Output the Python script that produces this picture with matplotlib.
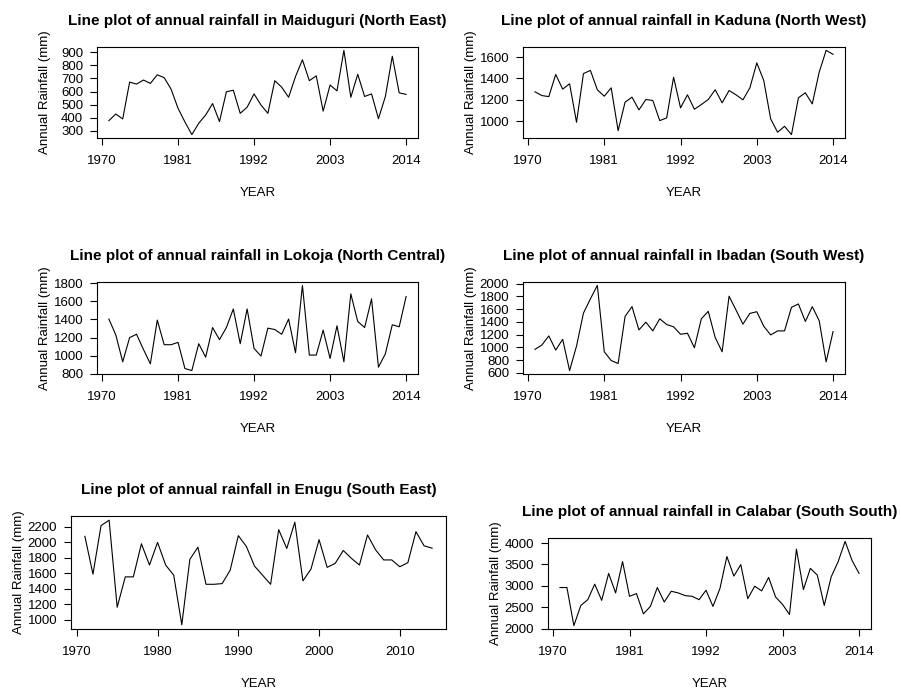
import matplotlib
matplotlib.use("Agg")
import matplotlib.pyplot as plt
import numpy as np

plt.rcParams['font.family'] = ['Liberation Sans', 'DejaVu Sans']

years = list(range(1971, 2015))

maiduguri = [377, 428, 390, 672, 657, 688, 662, 728, 706, 618, 472, 367, 270, 357, 420, 508,
             370, 598, 610, 433, 480, 582, 497, 433, 683, 633, 556, 715, 843, 683, 720, 450,
             650, 605, 915, 556, 732, 562, 582, 392, 562, 870, 590, 578]
kaduna = [1275, 1240, 1230, 1437, 1300, 1350, 990, 1445, 1475, 1294, 1234, 1312, 912, 1178,
          1225, 1106, 1203, 1194, 1006, 1031, 1412, 1125, 1247, 1112, 1156, 1203, 1294, 1172,
          1287, 1247, 1200, 1312, 1545, 1381, 1022, 897, 953, 875, 1219, 1266, 1162, 1459,
          1662, 1625]
lokoja = [1404, 1230, 934, 1200, 1237, 1070, 912, 1393, 1122, 1122, 1148, 860, 838, 1133,
          985, 1311, 1178, 1311, 1515, 1133, 1515, 1082, 997, 1304, 1289, 1237, 1404, 1034,
          1774, 1008, 1008, 1282, 971, 1330, 934, 1681, 1378, 1311, 1626, 875, 1023, 1341,
          1319, 1652]
ibadan = [970, 1038, 1181, 959, 1128, 637, 1022, 1540, 1762, 1974, 933, 795, 748, 1487,
          1641, 1276, 1397, 1260, 1450, 1360, 1324, 1207, 1223, 996, 1450, 1567, 1155, 933,
          1805, 1588, 1366, 1535, 1561, 1334, 1197, 1260, 1260, 1630, 1683, 1408, 1641, 1419,
          774, 1250]
enugu = [2078, 1589, 2217, 2287, 1161, 1554, 1554, 1982, 1707, 2000, 1707, 1576, 934, 1781,
         1938, 1458, 1458, 1467, 1642, 2087, 1947, 1694, 1576, 1458, 2165, 1921, 2261, 1502,
         1655, 2035, 1677, 1729, 1895, 1794, 1707, 2096, 1904, 1773, 1773, 1685, 1738, 2139,
         1956, 1925]
calabar = [2961, 2961, 2071, 2543, 2677, 3039, 2661, 3291, 2835, 3567, 2756, 2819, 2346, 2520,
           2961, 2622, 2874, 2835, 2772, 2756, 2677, 2898, 2520, 2937, 3685, 3228, 3496, 2701,
           2992, 2882, 3197, 2740, 2567, 2330, 3858, 2913, 3409, 3252, 2543, 3212, 3567, 4039,
           3591, 3291]

titles = ["Line plot of annual rainfall in Maiduguri (North East)",
          "Line plot of annual rainfall in Kaduna (North West)",
          "Line plot of annual rainfall in Lokoja (North Central)",
          "Line plot of annual rainfall in Ibadan (South West)",
          "Line plot of annual rainfall in Enugu (South East)",
          "Line plot of annual rainfall in Calabar (South South)"]
series = [maiduguri, kaduna, lokoja, ibadan, enugu, calabar]
xticks_r = [1970, 1981, 1992, 2003, 2014]
xticks_list = [xticks_r, xticks_r, xticks_r, xticks_r, [1970, 1980, 1990, 2000, 2010], xticks_r]
yticks_list = [range(300, 901, 100), range(1000, 1601, 200), range(800, 1801, 200),
               range(600, 2001, 200), range(1000, 2201, 200), range(2000, 4001, 500)]

W, H = 901, 692
# axes boxes in pixels: left, top, right, bottom
boxes = [(97, 47, 418, 138), (523, 47, 845, 138),
         (97, 282, 418, 374), (523, 282, 845, 374),
         (71, 516, 446, 629), (548, 538, 871, 629)]

fig = plt.figure(figsize=(W / 100, H / 100), dpi=100)

for i in range(6):
    l, t, r, b = boxes[i]
    ax = fig.add_axes([l / W, 1 - b / H, (r - l) / W, (b - t) / H])
    y = series[i]
    ax.plot(years, y, color='black', lw=0.8)
    x0, x1 = min(years), max(years)
    ax.set_xlim(x0 - 0.04 * (x1 - x0), x1 + 0.04 * (x1 - x0))
    lo, hi = min(y), max(y)
    ax.set_ylim(lo - 0.04 * (hi - lo), hi + 0.04 * (hi - lo))
    ax.set_xticks(xticks_list[i])
    ax.set_yticks(list(yticks_list[i]))
    ax.tick_params(direction='out', length=5, width=0.8, labelsize=9.5, colors='black')
    ax.tick_params(axis='x', pad=7)
    ax.tick_params(axis='y', pad=5)
    for s in ax.spines.values():
        s.set_linewidth(0.8)
        s.set_color('black')
    ax.set_title(titles[i], fontsize=11, fontweight='bold', pad=16)
    ax.set_xlabel('YEAR', fontsize=9.5)
    ax.set_ylabel('Annual Rainfall (mm)', fontsize=9.5)
    ax.xaxis.label.set_va('center')
    ax.yaxis.label.set_va('center')
    ax.xaxis.set_label_coords(0.5, -55 / (b - t))
    ax.yaxis.set_label_coords(-52 / (r - l), 0.5)

fig.savefig('out.png', dpi=100)
